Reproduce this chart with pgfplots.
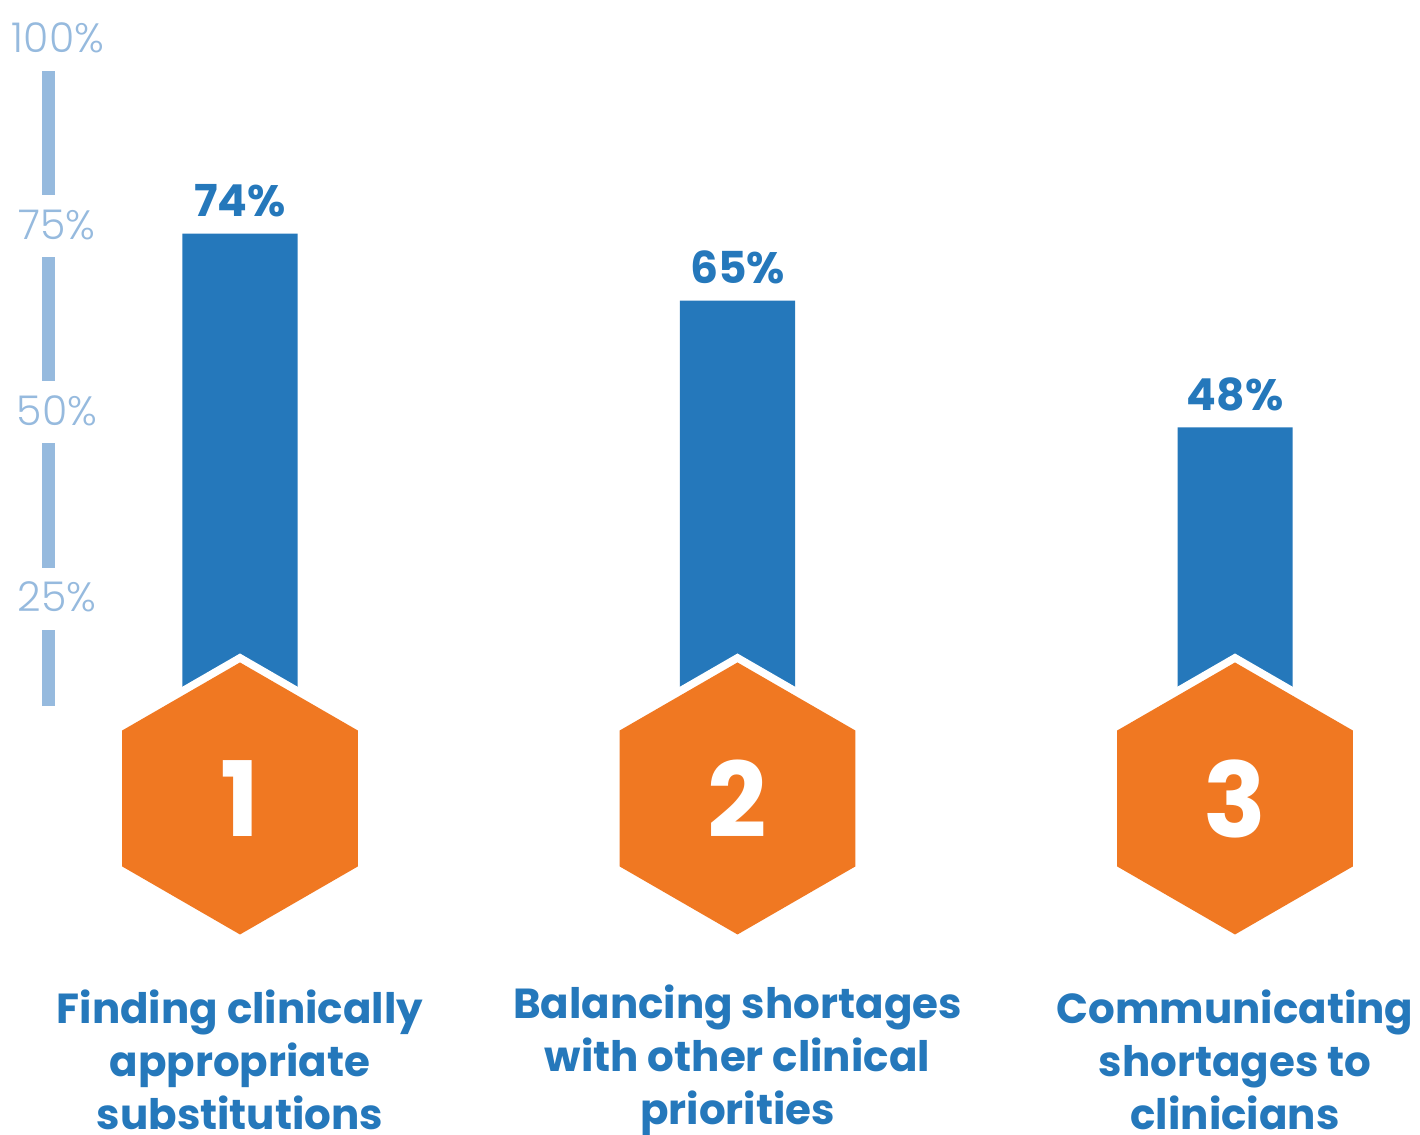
\documentclass[border=0pt]{standalone}
\usepackage{pgfplots}
\pgfplotsset{compat=1.18}
\usepackage{fontspec}
\setmainfont{Poppins}
\newfontfamily\lightfont{Poppins}[UprightFont=* Light]

\definecolor{barblue}{RGB}{37,120,187}
\definecolor{hexorange}{RGB}{240,120,34}
\definecolor{scaleblue}{RGB}{150,186,222}

\tikzset{
    scalelab/.style={fill=white, text=scaleblue, inner xsep=1pt, inner ysep=9pt,
        text height=13pt, text depth=0pt, font=\lightfont\fontsize{20.5}{20.5}\selectfont},
    catlab/.style={align=center, text=barblue, font=\bfseries\fontsize{21}{26.5}\selectfont},
    hexnum/.style={text=white, font=\bfseries\fontsize{52}{52}\selectfont},
}

% pointy-top hexagon mark
\pgfdeclareplotmark{hexa}{%
  \pgfpathmoveto{\pgfpointpolar{90}{\pgfplotmarksize}}%
  \pgfpathlineto{\pgfpointpolar{150}{\pgfplotmarksize}}%
  \pgfpathlineto{\pgfpointpolar{210}{\pgfplotmarksize}}%
  \pgfpathlineto{\pgfpointpolar{270}{\pgfplotmarksize}}%
  \pgfpathlineto{\pgfpointpolar{330}{\pgfplotmarksize}}%
  \pgfpathlineto{\pgfpointpolar{30}{\pgfplotmarksize}}%
  \pgfpathclose
  \pgfusepathqfill}

\begin{document}
\begin{tikzpicture}
\begin{axis}[
    name=ax,
    width=710pt, height=567.5pt, scale only axis,
    hide axis, clip=false,
    xmin=-0.48241, xmax=2.37186,
    ymin=-46.98, ymax=105.37,
    /pgf/number format/assume math mode=true,
]
% scale on the left
\addplot[scaleblue, line width=6.5pt, forget plot] coordinates {(-0.385,10.6) (-0.385,100)};
\node[scalelab] at (axis cs:-0.366,100) {100\%};
\node[scalelab] at (axis cs:-0.368,75) {75\%};
\node[scalelab] at (axis cs:-0.368,50) {50\%};
\node[scalelab] at (axis cs:-0.368,25) {25\%};

% bars
\addplot[ybar, bar width=0.2312, fill=barblue, draw=none,
    nodes near coords={\pgfmathprintnumber{\pgfplotspointmeta}\%},
    nodes near coords style={anchor=south, inner sep=0pt, yshift=8pt, text=barblue,
        font=\bfseries\fontsize{22}{22}\selectfont}]
    coordinates {(0,74) (1,65) (2,48)};

% hexagons: white halo, then orange with the rank inside
\addplot[only marks, mark=hexa, mark size=72.5pt, mark options={fill=white, draw=none}]
    coordinates {(0,-1.81) (1,-1.81) (2,-1.81)};
\addplot[only marks, mark=hexa, mark size=68pt, mark options={fill=hexorange, draw=none},
    point meta=explicit symbolic, nodes near coords,
    nodes near coords style={anchor=center, hexnum}]
    coordinates {(0,-1.81) [1] (1,-1.81) [2] (2,-1.81) [3]};

% category labels
\node[catlab] at (axis cs:0,-36.91) {Finding clinically\\appropriate\\substitutions};
\node[catlab] at (axis cs:1,-36.91) {Balancing shortages\\with other clinical\\priorities};
\node[catlab] at (axis cs:2,-36.91) {Communicating\\shortages to\\clinicians};
\end{axis}
\pgfresetboundingbox
\path (ax.south west) rectangle (ax.north east);
\end{tikzpicture}
\end{document}
